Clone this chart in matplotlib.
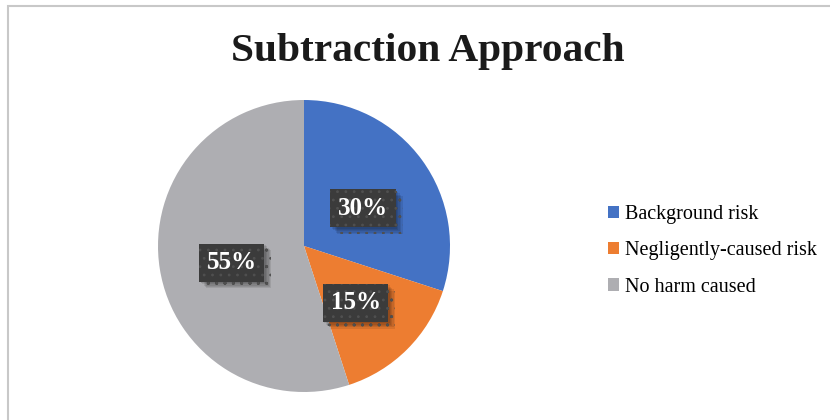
import matplotlib.pyplot as plt
import matplotlib.patheffects as pe
from matplotlib.patches import Patch, Rectangle

labels = ['Background risk', 'Negligently-caused risk', 'No harm caused']
shares = [30, 15, 55]
colors = ['#4472C4', '#ED7D31', '#AEAEB2']

plt.rcParams['font.family'] = ['Liberation Serif', 'DejaVu Serif']
plt.rcParams['hatch.linewidth'] = 0.8

fig = plt.figure(figsize=(8.3, 4.2), dpi=100)

# chart area border (left and top edges visible)
fig.patches.append(Rectangle((7.5 / 830, -0.1), 1.2, 1 - 6.5 / 420 + 0.1,
                             transform=fig.transFigure, fill=False,
                             edgecolor='#c8c8c8', linewidth=1.5))

fig.text(428 / 830, 1 - 52 / 420, 'Subtraction Approach', ha='center', va='center',
         fontsize=29.8, fontweight='bold', color='#1a1a1a')

ax = fig.add_axes([(304 - 146) / 830, (420 - 246 - 146) / 420, 292 / 830, 292 / 420])
wedges, texts, autotexts = ax.pie(shares, colors=colors, startangle=90, counterclock=False,
                                  autopct='%d%%', pctdistance=0.5,
                                  wedgeprops=dict(linewidth=0))
ax.set_xlim(-1, 1)
ax.set_ylim(-1, 1)
ax.set_aspect('equal')

# soft drop shadow built from several faint offset copies
shadow = [pe.SimplePatchShadow(offset=(d, -d), shadow_rgbFace='black', alpha=0.09)
          for d in (1, 2, 3, 4, 5)]

for t in autotexts:
    x, y = t.get_position()
    t.set_position((x, y - 0.035))
    t.set_color('white')
    t.set_fontsize(18)
    t.set_fontweight('bold')
    t.set_bbox(dict(boxstyle='square,pad=0.3', facecolor='#3b3b3b',
                    edgecolor='#505050', linewidth=0, hatch='..'))
    t.get_bbox_patch().set_path_effects(shadow + [pe.Normal()])

handles = [Patch(facecolor=c, edgecolor='none') for c in colors]
fig.legend(handles, labels, loc='center left', bbox_to_anchor=(600 / 830, 1 - 251 / 420),
           frameon=False, fontsize=14.5, handlelength=0.55, handleheight=0.55,
           handletextpad=0.3, labelspacing=0.85, borderaxespad=0)

fig.savefig('out.png', dpi=100)
